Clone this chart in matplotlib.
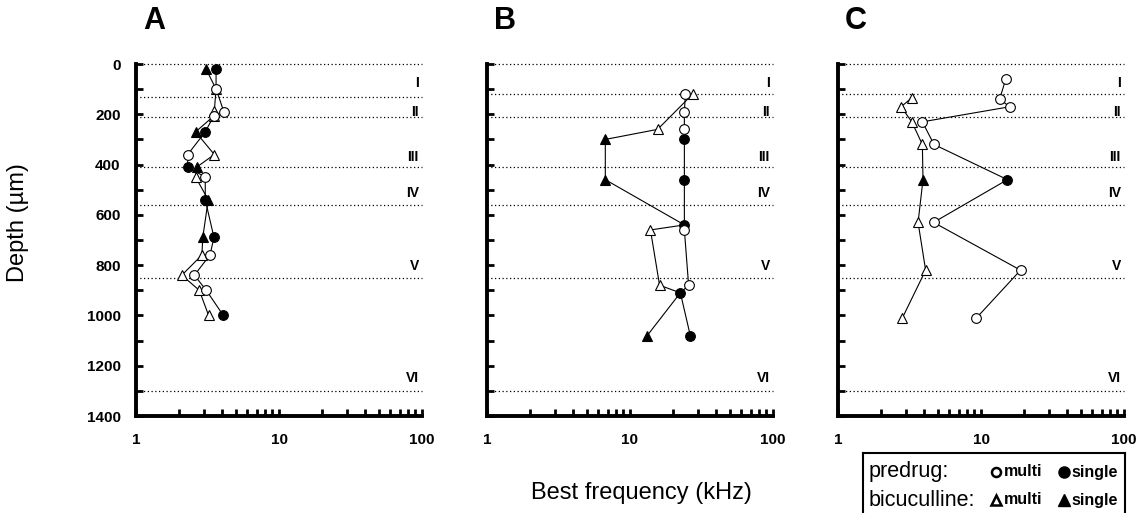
import matplotlib
matplotlib.use("Agg")
import matplotlib.pyplot as plt
from matplotlib.ticker import FixedLocator, LogLocator, NullFormatter

plt.rcParams['font.family'] = ['Liberation Sans', 'DejaVu Sans']

# panel A
a_pre_depth = [20, 100, 190, 205, 270, 360, 410, 450, 540, 690, 760, 840, 900, 1000]
a_pre_bf = [3.63, 3.63, 4.12, 3.51, 3.05, 2.30, 2.30, 3.05, 3.05, 3.51, 3.29, 2.56, 3.10, 4.08]
a_pre_single = [1, 0, 0, 0, 1, 0, 1, 0, 1, 1, 0, 0, 0, 1]
a_bic_depth = [20, 100, 185, 205, 270, 360, 410, 450, 540, 690, 760, 840, 900, 1000]
a_bic_bf = [3.09, 3.63, 3.53, 3.53, 2.61, 3.53, 2.66, 2.61, 3.20, 2.93, 2.89, 2.09, 2.77, 3.22]
a_bic_single = [1, 0, 0, 0, 1, 0, 1, 0, 1, 1, 0, 0, 0, 0]

# panel B
b_pre_depth = [120, 190, 260, 300, 460, 640, 660, 880, 910, 1080]
b_pre_bf = [24.4, 24.0, 24.0, 24.0, 24.0, 24.0, 24.0, 25.7, 22.5, 26.4]
b_pre_single = [0, 0, 0, 1, 1, 1, 0, 0, 1, 1]
b_bic_depth = [120, 260, 300, 460, 640, 660, 880, 910, 1080]
b_bic_bf = [27.4, 15.6, 6.72, 6.72, 24.0, 13.9, 16.1, 22.5, 13.2]
b_bic_single = [0, 0, 1, 1, 1, 0, 0, 1, 1]

# panel C
c_pre_depth = [60, 140, 170, 230, 320, 460, 630, 820, 1010]
c_pre_bf = [14.9, 13.5, 15.9, 3.89, 4.69, 15.3, 4.66, 18.9, 9.29]
c_pre_single = [0, 0, 0, 0, 0, 1, 0, 0, 0]
c_bic_depth = [135, 170, 230, 320, 460, 630, 820, 1010]
c_bic_bf = [3.28, 2.76, 3.28, 3.89, 3.93, 3.63, 4.10, 2.82]
c_bic_single = [0, 0, 0, 0, 1, 0, 0, 0]

# cortical layers
layer_names = ["I", "II", "III", "IV", "V", "VI"]
layer_label_depth = [75, 190, 370, 515, 805, 1250]
a_bounds = [0, 130, 210, 410, 560, 850, 1300]
bc_bounds = [0, 120, 210, 410, 560, 850, 1300]

panels = [
    ("A", a_pre_depth, a_pre_bf, a_pre_single, a_bic_depth, a_bic_bf, a_bic_single, a_bounds),
    ("B", b_pre_depth, b_pre_bf, b_pre_single, b_bic_depth, b_bic_bf, b_bic_single, bc_bounds),
    ("C", c_pre_depth, c_pre_bf, c_pre_single, c_bic_depth, c_bic_bf, c_bic_single, bc_bounds),
]

W, H = 1146, 513
fig = plt.figure(figsize=(W / 100, H / 100), dpi=100)
lefts = [136, 487, 838]


def draw_series(ax, bf, depth, single, marker, ms, z, hide=()):
    ax.plot(bf, depth, color='black', lw=0.8, zorder=z)
    for x, y, s in zip(bf, depth, single):
        # filled point sitting exactly under a filled predrug marker is hidden in the original
        if s and (x, y) in hide:
            continue
        ax.plot([x], [y], marker=marker, ms=ms, mec='black', mew=0.8,
                mfc='black' if s else 'white', ls='none',
                zorder=z + (0.5 if s else 2.5), clip_on=False)


for i, (name, pd, pb, ps, bd, bb, bs, bounds) in enumerate(panels):
    ax = fig.add_axes([lefts[i] / W, (H - 416) / H, 286 / W, 352 / H])
    ax.set_xscale('log')
    ax.set_xlim(1, 100)
    ax.set_ylim(1400, 0)
    for sp in ['top', 'right']:
        ax.spines[sp].set_visible(False)
    for sp in ['left', 'bottom']:
        ax.spines[sp].set_linewidth(2.8)

    for b in bounds:
        ax.axhline(b, color='black', lw=0.9, ls=(0, (1, 2)), zorder=1, clip_on=False)
    for nm, d in zip(layer_names, layer_label_depth):
        ax.text(95, d, nm, ha='right', va='center', fontsize=10, fontweight='bold')

    pre_filled = set((x, y) for x, y, s in zip(pb, pd, ps) if s)
    draw_series(ax, bb, bd, bs, '^', 7.5, 2, hide=pre_filled)
    draw_series(ax, pb, pd, ps, 'o', 7, 4)

    ax.yaxis.set_major_locator(FixedLocator(range(0, 1401, 200)))
    ax.yaxis.set_minor_locator(FixedLocator(range(100, 1400, 200)))
    ax.xaxis.set_major_locator(FixedLocator([1, 10, 100]))
    ax.xaxis.set_minor_locator(LogLocator(base=10, subs=range(2, 10)))
    ax.xaxis.set_minor_formatter(NullFormatter())
    ax.set_xticklabels(["1", "10", "100"], fontsize=11, fontweight='bold')
    ax.tick_params(axis='both', which='both', direction='in', length=5, width=2)
    ax.tick_params(axis='x', which='major', pad=12)
    ax.tick_params(axis='y', which='major', pad=11)
    if i == 0:
        ax.set_yticklabels([str(v) for v in range(0, 1401, 200)], fontsize=11, fontweight='bold')
    else:
        ax.set_yticklabels([])

    ax.text(0.063, 1.122, name, transform=ax.transAxes, ha='center', va='center',
            fontsize=22, fontweight='bold')

fig.text(18 / W, 1 - 223 / H, "Depth (µm)", rotation=90, ha='center', va='center', fontsize=17)
fig.text(641 / W, 1 - 493 / H, "Best frequency (kHz)", ha='center', va='center', fontsize=17)

# legend box
leg = fig.add_axes([863 / W, -6 / H, (1125 - 863) / W, (519 - 453) / H])
leg.set_xlim(863, 1125)
leg.set_ylim(519, 453)
leg.set_xticks([])
leg.set_yticks([])
for sp in leg.spines.values():
    sp.set_linewidth(1.5)
leg.text(869, 472, "predrug:", ha='left', va='center', fontsize=15.5)
leg.text(869, 500, "bicuculline:", ha='left', va='center', fontsize=15.5)
rows = [(472, 'o'), (500, '^')]
for y, m in rows:
    leg.plot([996], [y], marker=m, ms=6.5, mfc='white', mec='black', mew=1.8, ls='none')
    leg.text(1004, y, "multi", ha='left', va='center', fontsize=11.5, fontweight='bold')
    leg.plot([1064], [y], marker=m, ms=8, mfc='black', mec='black', ls='none')
    leg.text(1071, y, "single", ha='left', va='center', fontsize=11.5, fontweight='bold')

fig.savefig("out.png", dpi=100)
